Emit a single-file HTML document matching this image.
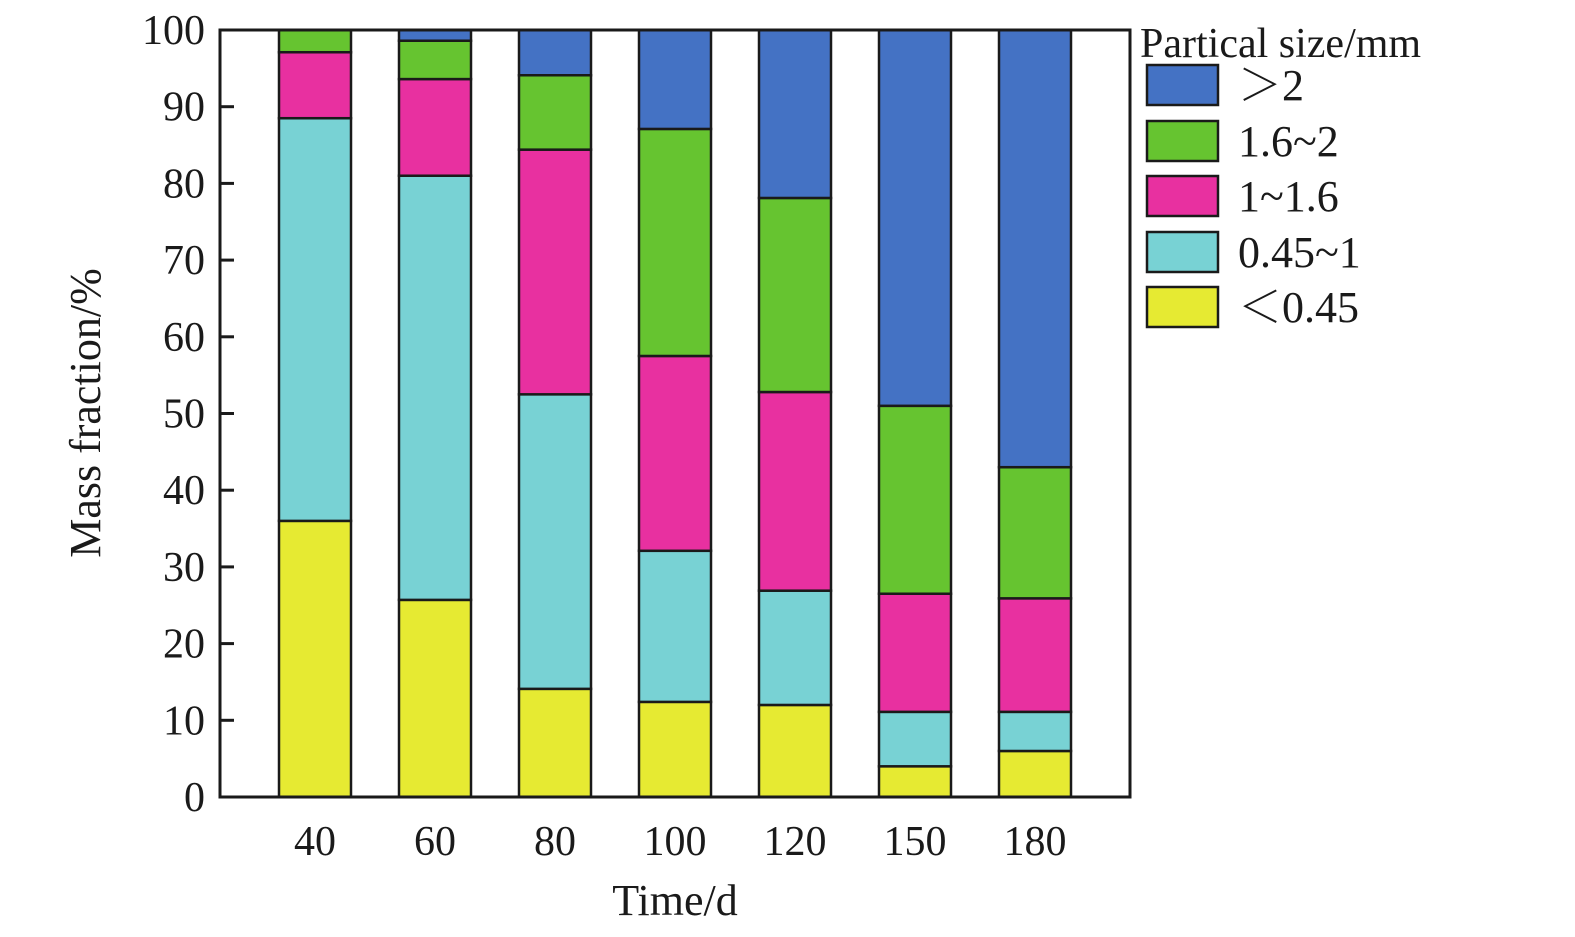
<!DOCTYPE html>
<html><head><meta charset="utf-8"><style>
html,body{margin:0;padding:0;background:#fff;}
svg{display:block;font-family:"Liberation Serif",serif;}
</style></head><body>
<svg id="chart" width="1575" height="937" viewBox="0 0 1575 937"></svg>
<script>
const categories = ["40","60","80","100","120","150","180"];
const seriesNames = ["<0.45","0.45~1","1~1.6","1.6~2",">2"];
const legendLabels = ["<0.45","0.45~1","1~1.6","1.6~2",">2"];
const s_lt045 = [36, 25.7, 14.1, 12.4, 12, 4, 6];
const s_045_1 = [52.5, 55.3, 38.4, 19.7, 14.9, 7.1, 5.1];
const s_1_16 = [8.6, 12.6, 31.9, 25.4, 25.9, 15.4, 14.8];
const s_16_2 = [2.9, 5, 9.7, 29.6, 25.3, 24.5, 17.1];
const s_gt2 = [0, 1.4, 5.9, 12.9, 21.9, 49, 57];
const yTicks = [0,10,20,30,40,50,60,70,80,90,100];
const colors = ["#E6EA32","#78D2D4","#E830A0","#66C430","#4472C4"];
const series = [s_lt045, s_045_1, s_1_16, s_16_2, s_gt2];
const slugs = ["lt-0-45","0-45-1","1-1-6","1-6-2","gt-2"];

const NS="http://www.w3.org/2000/svg";
const svg=document.getElementById('chart');
const X0=220,X1=1130,Y0=797,Y1=30;
const y=v=>Y0-(v/100)*(Y0-Y1);
const xc=i=>315+i*120;
const BW=72;
function mk(t,a){const e=document.createElementNS(NS,t);for(const k in a)e.setAttribute(k,a[k]);svg.appendChild(e);return e;}

// bars
categories.forEach((c,i)=>{
  let acc=0;
  series.forEach((s,j)=>{
    const v=s[i]; if(v<=0){return;}
    const r=mk('rect',{x:xc(i)-BW/2,y:y(acc+v),width:BW,height:y(acc)-y(acc+v),fill:colors[j],stroke:'#1a1a1a','stroke-width':2.5});
    
    
    acc+=v;
  });
});

// axes frame
const f=mk('rect',{x:X0,y:Y1,width:X1-X0,height:Y0-Y1,fill:'none',stroke:'#1a1a1a','stroke-width':3});



yTicks.forEach(t=>{
  const l=mk('line',{x1:X0,x2:X0+14,y1:y(t),y2:y(t),stroke:'#1a1a1a','stroke-width':3});
  
  
  const tx=mk('text',{x:205,y:y(t)+14,'text-anchor':'end','font-size':42,fill:'#1a1a1a'});
  tx.textContent=t;
  
  
});
categories.forEach((c,i)=>{
  const tx=mk('text',{x:xc(i),y:855,'text-anchor':'middle','font-size':42,fill:'#1a1a1a'});
  tx.textContent=c;
  
  
});
const xt=mk('text',{x:675,y:915,'text-anchor':'middle','font-size':44,fill:'#1a1a1a'});
xt.textContent='Time/d';


const yt=mk('text',{x:0,y:0,'text-anchor':'middle','font-size':44,fill:'#1a1a1a',transform:'translate(100,413) rotate(-90)'});
yt.textContent='Mass fraction/%';



// legend
const lt=mk('text',{x:1140,y:57,'font-size':42,fill:'#1a1a1a'});
lt.textContent='Partical size/mm';


const legTops=[65,121,176,232,287];
for(let k=0;k<5;k++){
  const j=4-k;
  const r=mk('rect',{x:1147,y:legTops[k],width:71,height:40,fill:colors[j],stroke:'#1a1a1a','stroke-width':2.5});
  
  
  const tx=mk('text',{x:1238,y:legTops[k]+35,'font-size':44,fill:'#1a1a1a'});
  tx.textContent=legendLabels[j].replace('<','＜').replace('>','＞');
  tx.setAttribute('font-family','"Liberation Serif","Noto Serif CJK SC",serif');
  
  
}
</script>
</body></html>
